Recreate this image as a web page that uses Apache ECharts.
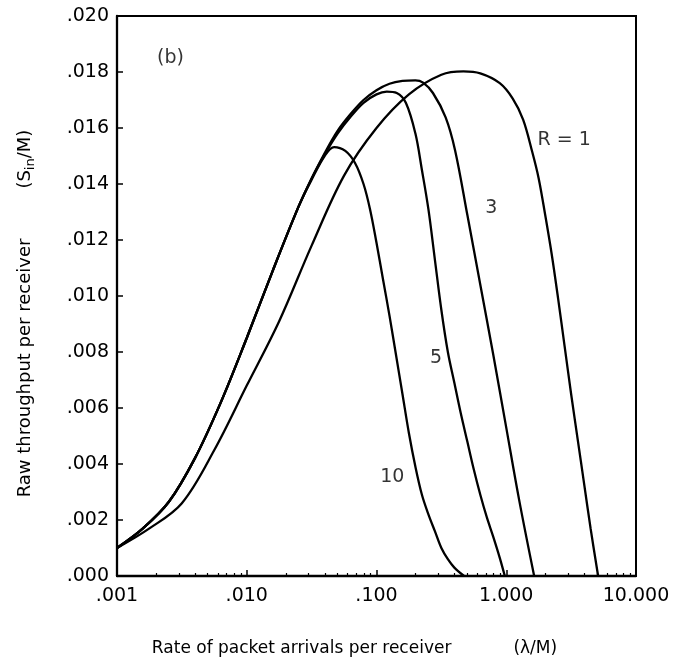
<!DOCTYPE html>
<html>
<head>
<meta charset="utf-8">
<script src="https://cdn.jsdelivr.net/npm/echarts@6/dist/echarts.min.js"></script>
<style>html,body{margin:0;padding:0;background:#fff}#c{width:680px;height:669px}</style>
</head>
<body>
<div id="c"></div>
<script>
// shared rising part (R = 3, 5, 10 nearly coincide)
var bundleX = [0.001, 0.001585, 0.002512, 0.003981, 0.00631, 0.0100, 0.01585, 0.02512];
var bundleY = [0.00100, 0.00170, 0.00265, 0.00420, 0.00620, 0.00850, 0.01090, 0.01320];

var r3X = [0.03162, 0.03981, 0.05012, 0.0631, 0.0794, 0.1000, 0.1259, 0.1585, 0.1995, 0.2286, 0.2723, 0.341, 0.4035, 0.5012, 0.631, 0.7943, 1.000, 1.259, 1.641];
var r3Y = [0.01420, 0.01510, 0.01590, 0.01650, 0.01700, 0.01735, 0.01758, 0.01768, 0.01770, 0.01762, 0.01725, 0.01638, 0.01520, 0.01290, 0.01040, 0.00790, 0.00530, 0.00270, 0];

var r5X = [0.03162, 0.03981, 0.05012, 0.0631, 0.0794, 0.1000, 0.1200, 0.1432, 0.1683, 0.1995, 0.2239, 0.2512, 0.2818, 0.3162, 0.3548, 0.3981, 0.4467, 0.5012, 0.5623, 0.631, 0.7079, 0.7943, 0.8913, 0.975];
var r5Y = [0.01420, 0.01505, 0.01580, 0.01640, 0.01690, 0.01720, 0.01730, 0.01725, 0.01690, 0.01580, 0.01450, 0.01310, 0.01130, 0.00950, 0.00800, 0.00690, 0.00580, 0.00480, 0.00380, 0.00290, 0.00210, 0.00140, 0.00065, 0];

var r10X = [0.03162, 0.03981, 0.0471, 0.0575, 0.0683, 0.07943, 0.08913, 0.1000, 0.1122, 0.1259, 0.1413, 0.1585, 0.1778, 0.1995, 0.2239, 0.2512, 0.2818, 0.3162, 0.3548, 0.3981, 0.4732];
var r10Y = [0.01415, 0.01500, 0.01532, 0.01518, 0.01475, 0.01400, 0.01310, 0.01190, 0.01060, 0.00930, 0.00790, 0.00650, 0.00510, 0.00390, 0.00290, 0.00220, 0.00160, 0.00100, 0.00060, 0.00030, 0];

var r1X = [0.001, 0.001778, 0.003162, 0.005623, 0.0100, 0.01778, 0.03162, 0.05623, 0.1000, 0.1778, 0.3162, 0.4677, 0.6310, 0.8913, 1.122, 1.349, 1.585, 1.778, 1.995, 2.239, 2.512, 2.818, 3.162, 3.548, 3.981, 4.467, 5.105];
var r1Y = [0.00100, 0.00170, 0.00260, 0.00450, 0.00680, 0.00910, 0.01180, 0.01430, 0.01600, 0.01720, 0.01790, 0.01802, 0.01795, 0.01760, 0.01705, 0.01630, 0.01515, 0.01420, 0.01290, 0.01150, 0.00990, 0.00820, 0.00650, 0.00490, 0.00330, 0.00170, 0];

// curve labels: [text, x, y]
var curveLabels = [["R = 1", 2.80, 0.01557], ["3", 0.768, 0.01314], ["5", 0.288, 0.00778], ["10", 0.1325, 0.00355], ["(b)", 0.00258, 0.01848]];

function zip(xs, ys) { return xs.map(function (x, i) { return [x, ys[i]]; }); }
function withBundle(xs, ys) { return zip(bundleX.concat(xs), bundleY.concat(ys)); }

var FONT = 'DejaVu Sans';
var lineStyle = { color: '#000', width: 2.3 };
function mkSeries(name, data) {
  return { name: name, type: 'line', data: data, showSymbol: false, symbol: 'none', smooth: 0.35, lineStyle: lineStyle, animation: false, z: 3 };
}

var series = [
  mkSeries('R=1', zip(r1X, r1Y)),
  mkSeries('R=3', withBundle(r3X, r3Y)),
  mkSeries('R=5', withBundle(r5X, r5Y)),
  mkSeries('R=10', withBundle(r10X, r10Y))
];
series.push({
  type: 'scatter', data: curveLabels.map(function (l) { return { value: [l[1], l[2]], name: l[0] }; }),
  symbolSize: 0, animation: false, silent: true,
  label: { show: true, position: 'inside', formatter: function (p) { return p.name; }, color: '#000', fontFamily: FONT, fontSize: 19 }
});

var chart = echarts.init(document.getElementById('c'), null, { renderer: 'canvas' });
chart.setOption({
  backgroundColor: '#fff',
  animation: false,
  grid: { left: 117, right: 44, top: 16, bottom: 93, show: true, borderColor: '#000', borderWidth: 2 },
  xAxis: {
    type: 'log', logBase: 10, min: 0.001, max: 10,
    axisLine: { lineStyle: { color: '#000', width: 2.3 } },
    axisTick: { inside: true, length: 6, lineStyle: { color: '#000', width: 1.5 } },
    minorTick: { show: true, splitNumber: 9, length: 3, lineStyle: { color: '#000', width: 1.2 } },
    splitLine: { show: false },
    axisLabel: {
      color: '#000', fontFamily: FONT, fontSize: 19, margin: 11,
      formatter: function (v) { var s = v.toFixed(3); return v < 1 ? s.replace(/^0/, '') : s; }
    },
    name: '{a|Rate of packet arrivals per receiver}{g|}{a|(λ/M)}',
    nameLocation: 'middle', nameGap: 64,
    nameTextStyle: { padding: [0, 44, 0, 0], rich: { a: { fontFamily: FONT, fontSize: 17, color: '#000' }, g: { width: 62 } } }
  },
  yAxis: {
    type: 'value', min: 0, max: 0.02, interval: 0.002,
    axisLine: { lineStyle: { color: '#000', width: 2.3 } },
    axisTick: { inside: true, length: 6, lineStyle: { color: '#000', width: 1.5 } },
    splitLine: { show: false },
    axisLabel: {
      color: '#000', fontFamily: FONT, fontSize: 19, margin: 8,
      formatter: function (v) { return v.toFixed(3).replace(/^0/, ''); }
    },
    name: '{a|Raw throughput per receiver}{g|}{a|(S}{s|in}{a|/M)}',
    nameLocation: 'middle', nameGap: 80,
    nameTextStyle: { padding: [0, 35, 0, 0], rich: { a: { fontFamily: FONT, fontSize: 18, color: '#000', lineHeight: 24, verticalAlign: 'middle' }, s: { fontFamily: FONT, fontSize: 13, color: '#000', lineHeight: 24, verticalAlign: 'bottom' }, g: { width: 50 } } }
  },
  series: series
});
</script>
</body>
</html>
